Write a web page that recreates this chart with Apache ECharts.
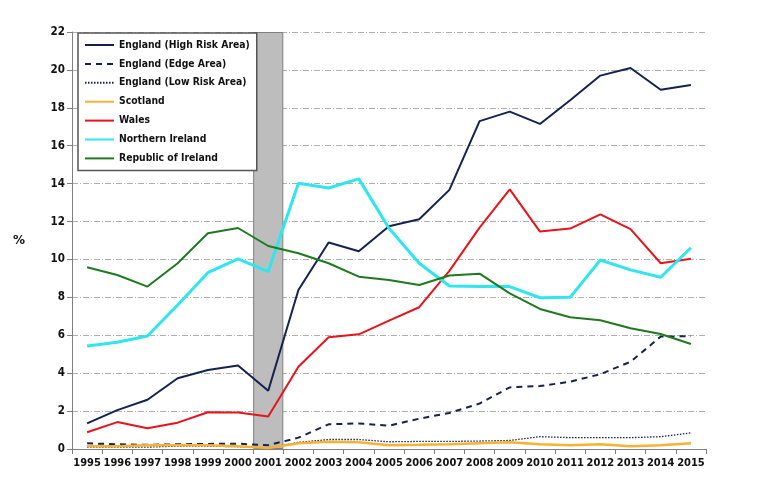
<!DOCTYPE html>
<html>
<head>
<meta charset="utf-8">
<script src="https://cdn.jsdelivr.net/npm/echarts@6/dist/echarts.min.js"></script>
<style>html,body{margin:0;padding:0;background:#fff;}#c{width:762px;height:497px;}</style>
</head>
<body>
<div id="c"></div>
<script>
const years = ['1995','1996','1997','1998','1999','2000','2001','2002','2003','2004','2005','2006','2007','2008','2009','2010','2011','2012','2013','2014','2015'];
const englandHigh = [1.35,2.05,2.6,3.73,4.17,4.4,3.07,8.39,10.89,10.43,11.75,12.12,13.67,17.3,17.8,17.15,18.4,19.7,20.1,18.95,19.2];
const englandEdge = [0.3,0.25,0.22,0.25,0.27,0.28,0.2,0.6,1.3,1.35,1.23,1.6,1.9,2.4,3.25,3.32,3.55,3.95,4.6,5.93,5.95];
const englandLow = [0.1,0.1,0.1,0.15,0.15,0.12,0.05,0.35,0.5,0.5,0.38,0.4,0.4,0.42,0.45,0.65,0.6,0.6,0.6,0.65,0.85];
const scotland = [0.15,0.15,0.2,0.2,0.2,0.15,0.05,0.3,0.38,0.35,0.2,0.22,0.25,0.3,0.35,0.25,0.2,0.25,0.15,0.2,0.3];
const wales = [0.88,1.42,1.09,1.39,1.94,1.93,1.71,4.34,5.9,6.05,6.77,7.48,9.4,11.68,13.7,11.47,11.63,12.38,11.6,9.8,10.04];
const northernIreland = [5.44,5.63,5.96,7.6,9.3,10.03,9.36,14.02,13.77,14.25,11.65,9.8,8.6,8.57,8.57,7.98,8.0,9.97,9.45,9.06,10.62];
const republicOfIreland = [9.59,9.18,8.57,9.8,11.38,11.66,10.71,10.33,9.8,9.09,8.92,8.65,9.15,9.25,8.21,7.39,6.95,6.79,6.37,6.07,5.54];
const yTicks = {min:0, max:22, interval:2};
const highlightYear = '2001';

const chart = echarts.init(document.getElementById('c'), null, {renderer:'canvas'});
const font = 'DejaVu Sans';
const condensed = 'DejaVu Sans Condensed';
function line(name, data, color, width, type, z) {
  return {name, type:'line', data, symbol:'none', z: z||3,
    lineStyle:{color, width, type: type||'solid'}, itemStyle:{color}};
}
const band = years.map(y => y === highlightYear ? yTicks.max : null);
chart.setOption({
  animation:false,
  grid:{left:72, right:56, top:32, bottom:48},
  legend:{
    orient:'vertical', left:78, top:33,
    backgroundColor:'#fff', borderColor:'#555', borderWidth:1.5,
    padding:[7,7,7,6], itemGap:8.9, itemWidth:29, itemHeight:11.5,
    itemStyle:{opacity:0},
    textStyle:{fontFamily:condensed, fontWeight:'bold', fontSize:10.3, color:'#111'},
    data:['England (High Risk Area)','England (Edge Area)','England (Low Risk Area)','Scotland','Wales','Northern Ireland','Republic of Ireland']
  },
  xAxis:{type:'category', data:years, boundaryGap:true,
    axisLine:{lineStyle:{color:'#808080', width:1}},
    axisTick:{show:true, length:5, lineStyle:{color:'#808080'}},
    axisLabel:{interval:0, fontFamily:condensed, fontWeight:'bold', fontSize:11, color:'#111', margin:9}
  },
  yAxis:{type:'value', min:yTicks.min, max:yTicks.max, interval:yTicks.interval,
    name:'%', nameLocation:'middle', nameGap:47, nameRotate:0,
    nameTextStyle:{fontFamily:font, fontWeight:'bold', fontSize:12, color:'#111'},
    axisLine:{show:true, lineStyle:{color:'#808080', width:1}},
    axisTick:{show:true, length:5, lineStyle:{color:'#808080'}},
    axisLabel:{fontFamily:condensed, fontWeight:'bold', fontSize:11.5, color:'#111', margin:7},
    splitLine:{lineStyle:{color:'#b0b0b0', width:1, type:[6,2,1,2]}}
  },
  series:[
    {name:'band', type:'bar', data:band, barWidth:'100%', z:1, silent:true,
      itemStyle:{color:'#bdbdbd', borderColor:'#7f7f7f', borderWidth:1}},
    line('England (High Risk Area)', englandHigh, '#14224f', 2),
    line('England (Edge Area)', englandEdge, '#14224f', 2, [6,5]),
    line('England (Low Risk Area)', englandLow, '#14224f', 1.3, [1.5,1.5]),
    line('Scotland', scotland, '#f7b232', 2.5),
    line('Wales', wales, '#e8141a', 2),
    line('Northern Ireland', northernIreland, '#2ee6ee', 3),
    line('Republic of Ireland', republicOfIreland, '#1e7a1e', 2)
  ]
});
</script>
</body>
</html>
